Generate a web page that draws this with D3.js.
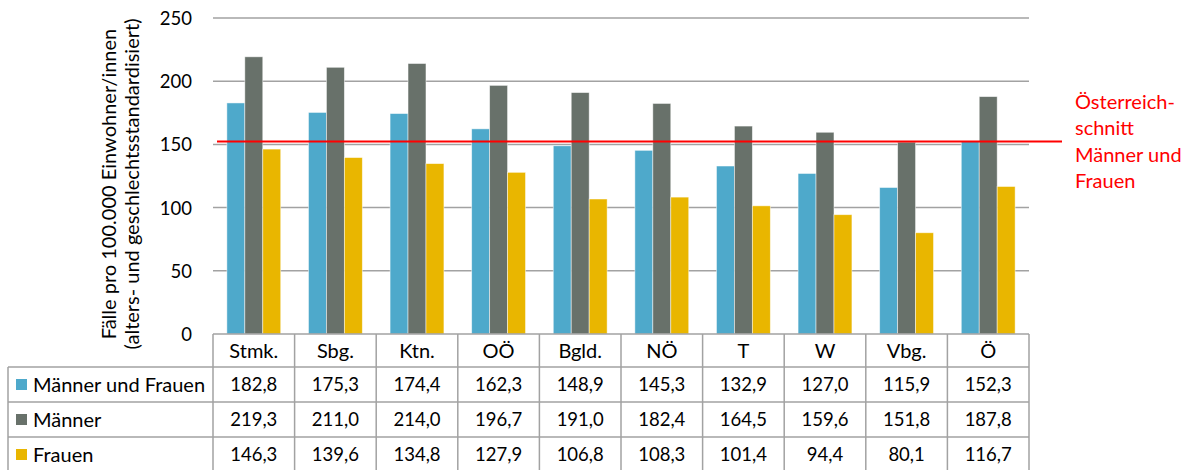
<!DOCTYPE html>
<html>
<head>
<meta charset="utf-8">
<script src="https://cdn.jsdelivr.net/npm/d3@7"></script>
<style>
  html, body { margin: 0; padding: 0; background: #fff; }
  svg { display: block; font-family: Lato, "Open Sans", sans-serif; }
</style>
</head>
<body>
<svg id="chart" width="1195" height="470"></svg>
<script>
// Bundesländer (Kurzbezeichnungen) und Österreich gesamt
const categories = ["Stmk.", "Sbg.", "Ktn.", "OÖ", "Bgld.", "NÖ", "T", "W", "Vbg.", "Ö"];
const seriesNames = ["Männer und Frauen", "Männer", "Frauen"];
const valuesGesamt = [182.8, 175.3, 174.4, 162.3, 148.9, 145.3, 132.9, 127.0, 115.9, 152.3];
const valuesMaenner = [219.3, 211.0, 214.0, 196.7, 191.0, 182.4, 164.5, 159.6, 151.8, 187.8];
const valuesFrauen = [146.3, 139.6, 134.8, 127.9, 106.8, 108.3, 101.4, 94.4, 80.1, 116.7];
const yTicks = [0, 50, 100, 150, 200, 250];
const referenceValue = 152.3; // Österreichschnitt Männer und Frauen
const referenceLabel = ["Österreich-", "schnitt", "Männer und", "Frauen"];

const colors = ["#4ea9cb", "#68716a", "#e9b600"];
const series = [valuesGesamt, valuesMaenner, valuesFrauen];

const svg = d3.select("#chart");
const plotLeft = 213, plotRight = 1029, plotTop = 18, plotBottom = 334;
const rowH = 35, headerH = 33, tableLeft = 8;
const gridColor = "#a2a2a2";
const wordSize = 20, numSize = 18.5;
const fmt = v => v.toFixed(1).replace(".", ",");

const x = d3.scaleBand().domain(categories).range([plotLeft, plotRight]).paddingInner(0).paddingOuter(0);
const xInner = d3.scaleBand().domain(d3.range(series.length))
  .range([x.bandwidth() * 0.17, x.bandwidth() * 0.83]).paddingInner(0).paddingOuter(0);
const y = d3.scaleLinear().domain([0, 250]).range([plotBottom, plotTop]);

// Gitternetzlinien
svg.append("g").selectAll("line").data(yTicks.filter(t => t > 0)).join("line")
  .attr("x1", plotLeft).attr("x2", plotRight)
  .attr("y1", d => y(d)).attr("y2", d => y(d))
  .attr("stroke", gridColor).attr("stroke-width", 1.5);

// y-Achse: Beschriftung ohne Linie
const yAxis = svg.append("g").attr("transform", `translate(${plotLeft - 21},0)`)
  .call(d3.axisLeft(y).tickValues(yTicks).tickSize(0).tickPadding(0));
yAxis.select(".domain").remove();
yAxis.selectAll("text").attr("font-size", numSize).attr("font-family", "Lato, 'Open Sans', sans-serif")
  .attr("fill", "#000").attr("dy", "0.35em");

// Achsentitel
const title = svg.append("text")
  .attr("transform", `translate(116,184) rotate(-90)`)
  .attr("text-anchor", "middle").attr("font-size", wordSize).attr("fill", "#000");
title.append("tspan").attr("x", 0).attr("dy", 0).text("Fälle pro 100.000 Einwohner/innen");
title.append("tspan").attr("x", 0).attr("dy", 23).text("(alters- und geschlechtsstandardisiert)");

// Balken
const groups = svg.append("g").selectAll("g").data(categories).join("g")
  .attr("transform", d => `translate(${x(d)},0)`);
groups.selectAll("rect").data((d, i) => series.map((s, k) => ({ k, v: s[i] }))).join("rect")
  .attr("x", d => xInner(d.k)).attr("width", xInner.bandwidth())
  .attr("y", d => y(d.v)).attr("height", d => y(0) - y(d.v))
  .attr("fill", d => colors[d.k])
  .attr("stroke", "rgba(255,255,255,0.6)").attr("stroke-width", 0.8);

// Referenzlinie Österreichschnitt
svg.append("line")
  .attr("x1", 217).attr("x2", 1062)
  .attr("y1", y(referenceValue)).attr("y2", y(referenceValue))
  .attr("stroke", "#ff0000").attr("stroke-width", 2);
svg.append("text").attr("font-size", wordSize).attr("fill", "#ff0000")
  .selectAll("tspan").data(referenceLabel).join("tspan")
  .attr("x", 1075).attr("y", (d, i) => 109 + i * 26.3).text(d => d);

// Datentabelle
const table = svg.append("g");
const tableBottom = plotBottom + headerH + rowH * series.length;
// Kopfzeile mit Kategorien
table.selectAll("text.cat").data(categories).join("text").attr("class", "cat")
  .attr("x", d => x(d) + x.bandwidth() / 2).attr("y", plotBottom + headerH / 2)
  .attr("dy", "0.35em").attr("text-anchor", "middle").attr("font-size", wordSize).attr("fill", "#000")
  .text(d => d);
// Werte
series.forEach((s, k) => {
  const rowTop = plotBottom + headerH + k * rowH;
  table.append("g").selectAll("text").data(s).join("text")
    .attr("x", (d, i) => x(categories[i]) + x.bandwidth() / 2).attr("y", rowTop + rowH / 2)
    .attr("dy", "0.35em").attr("text-anchor", "middle").attr("font-size", numSize).attr("fill", "#000")
    .text(d => fmt(d));
  table.append("rect").attr("x", 16).attr("y", rowTop + rowH / 2 - 5.5)
    .attr("width", 11).attr("height", 11).attr("fill", colors[k]);
  table.append("text").attr("x", 33).attr("y", rowTop + rowH / 2).attr("dy", "0.35em")
    .attr("font-size", wordSize).attr("fill", "#000").text(seriesNames[k]);
});
// Tabellenlinien
const hLines = [plotBottom, plotBottom + headerH, plotBottom + headerH + rowH, plotBottom + headerH + 2 * rowH, tableBottom];
hLines.forEach((yy, i) => {
  table.append("line").attr("x1", i === 0 ? plotLeft : tableLeft).attr("x2", plotRight)
    .attr("y1", yy).attr("y2", yy).attr("stroke", gridColor).attr("stroke-width", 1.5);
});
table.selectAll("line.v").data(categories.map(c => x(c)).concat([plotRight])).join("line").attr("class", "v")
  .attr("x1", d => d).attr("x2", d => d).attr("y1", plotBottom).attr("y2", tableBottom)
  .attr("stroke", gridColor).attr("stroke-width", 1.5);
table.append("line").attr("x1", tableLeft).attr("x2", tableLeft)
  .attr("y1", plotBottom + headerH).attr("y2", tableBottom)
  .attr("stroke", gridColor).attr("stroke-width", 1.5);
</script>
</body>
</html>
